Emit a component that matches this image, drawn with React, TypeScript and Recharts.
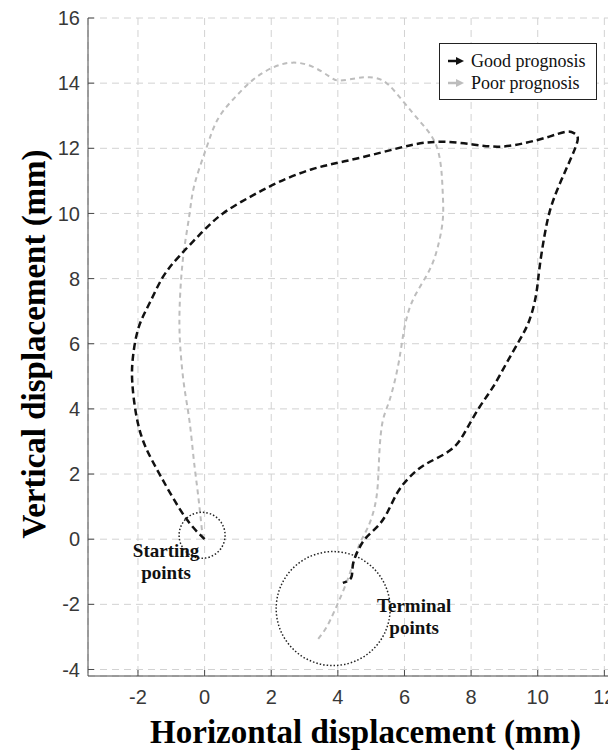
import React from "react"
import { LineChart, Line, XAxis, YAxis, CartesianGrid, ReferenceDot, Label } from "recharts"

// trajectory of the good-prognosis group (mm)
const goodX = [0.0, -0.6, -1.3, -1.8, -2.05, -2.17, -2.15, -1.98, -1.65, -1.25, -0.75, -0.1, 0.55, 1.35, 2.2, 3.2, 4.2, 5.3, 6.3, 7.15, 8.05, 8.85, 9.65, 10.35, 10.85, 11.1, 11.2, 11.0, 10.7, 10.4, 10.2, 10.05, 9.95, 9.75, 9.45, 9.05, 8.65, 8.25, 7.85, 7.4, 6.65, 6.15, 5.8, 5.5, 5.2, 4.85, 4.6, 4.45, 4.4, 4.15]
const goodY = [0.0, 0.7, 1.9, 2.9, 3.8, 4.8, 5.6, 6.5, 7.25, 8.05, 8.7, 9.4, 10.0, 10.5, 10.95, 11.35, 11.6, 11.87, 12.12, 12.2, 12.12, 12.05, 12.17, 12.36, 12.51, 12.46, 12.26, 11.7, 11.0, 10.2, 9.3, 8.3, 7.5, 6.72, 6.1, 5.38, 4.66, 4.05, 3.35, 2.75, 2.31, 1.9, 1.45, 0.85, 0.4, 0.05, -0.36, -0.8, -1.18, -1.34]

// trajectory of the poor-prognosis group (mm)
const poorX = [-0.05, -0.2, -0.32, -0.45, -0.6, -0.7, -0.75, -0.75, -0.7, -0.6, -0.45, -0.3, 0.05, 0.4, 0.9, 1.45, 2.05, 2.65, 3.25, 3.75, 4.05, 4.55, 4.95, 5.35, 5.75, 6.25, 6.65, 6.95, 7.1, 7.15, 7.15, 7.0, 6.75, 6.35, 6.1, 5.95, 5.8, 5.55, 5.35, 5.25, 5.2, 5.1, 4.9, 4.65, 4.45, 4.2, 3.9, 3.65, 3.38]
const poorY = [0.0, 1.4, 2.4, 3.6, 4.6, 5.5, 6.3, 7.1, 8.05, 9.0, 10.0, 10.9, 12.0, 12.9, 13.55, 14.1, 14.48, 14.63, 14.5, 14.2, 14.08, 14.15, 14.18, 14.08, 13.7, 13.08, 12.6, 12.1, 11.4, 10.6, 9.8, 8.97, 8.26, 7.54, 6.92, 6.2, 5.28, 4.26, 3.64, 2.72, 1.69, 0.97, 0.36, -0.15, -0.77, -1.49, -2.2, -2.72, -3.1]

const xTicks = [-2, 0, 2, 4, 6, 8, 10, 12]
const yTicks = [-4, -2, 0, 2, 4, 6, 8, 10, 12, 14, 16]
const seriesNames = ["Good prognosis", "Poor prognosis"]

const startPoint = { x: -0.075, y: 0.12 }
const endPoint = { x: 3.86, y: -2.13 }

const goodData = goodX.map((x, i) => ({ x, y: goodY[i] }))
const poorData = poorX.map((x, i) => ({ x, y: poorY[i] }))

const SERIF = "'Times New Roman', 'Liberation Serif', serif"
const SANS = "Arial, 'Liberation Sans', sans-serif"
const AXIS = "#4a4a4a"

const BottomTick = ({ x, y, payload }: any) => (
  <g>
    <line x1={x} x2={x} y1={y - 14} y2={y - 20} stroke={AXIS} />
    <text x={x} y={y} dy="0.71em" textAnchor="middle" fill="#383838" fontSize={20} fontFamily={SANS}>
      {payload.value}
    </text>
  </g>
)

const LeftTick = ({ x, y, payload }: any) => (
  <g>
    <line x1={x + 8} x2={x + 14} y1={y} y2={y} stroke={AXIS} />
    <text x={x} y={y} dy="0.355em" textAnchor="end" fill="#383838" fontSize={20} fontFamily={SANS}>
      {payload.value}
    </text>
  </g>
)

const TopTick = ({ x, y }: any) => <line x1={x} x2={x} y1={y} y2={y + 6} stroke={AXIS} />
const RightTick = ({ x, y }: any) => <line x1={x} x2={x - 6} y1={y} y2={y} stroke={AXIS} />

const circleLabel = (lines: string[], dx: number, dy: number) => (props: any) => {
  const vb = props.viewBox || {}
  const cx = vb.cx != null ? vb.cx : vb.x + (vb.width || 0) / 2
  const cy = vb.cy != null ? vb.cy : vb.y + (vb.height || 0) / 2
  return (
    <text textAnchor="middle" fontFamily={SERIF} fontWeight="bold" fontSize={19} fill="#111">
      {lines.map((t, i) => (
        <tspan key={t} x={cx + dx} y={cy + dy + i * 22}>{t}</tspan>
      ))}
    </text>
  )
}

const Arrow = ({ color }: { color: string }) => (
  <svg width={18} height={10} style={{ marginRight: 6 }}>
    <line x1={1} y1={5} x2={11} y2={5} stroke={color} strokeWidth={2.5} />
    <polygon points="9,1 17,5 9,9" fill={color} />
  </svg>
)

export default function App() {
  return (
    <div style={{ position: "relative", width: 616, height: 750, overflow: "hidden", margin: "-8px 0 0 -8px", background: "#fff" }}>
      <LineChart width={624} height={750} margin={{ top: 18, right: 3, left: 0, bottom: 0 }}>
        <CartesianGrid stroke="#d2d2d2" strokeDasharray="7 5" />
        <XAxis
          dataKey="x"
          type="number"
          domain={[-3.5, 12.5]}
          ticks={xTicks}
          allowDataOverflow
          height={74}
          tickSize={0}
          tickMargin={14}
          stroke={AXIS}
          tick={<BottomTick />}
        >
          <Label
            content={(p: any) => (
              <text
                x={p.viewBox.x + p.viewBox.width / 2 + 11}
                y={p.viewBox.y + 67}
                textAnchor="middle"
                fontFamily={SERIF}
                fontWeight="bold"
                fontSize={33}
                fill="#000"
              >
                Horizontal displacement (mm)
              </text>
            )}
          />
        </XAxis>
        <XAxis
          xAxisId="top"
          orientation="top"
          dataKey="x"
          type="number"
          domain={[-3.5, 12.5]}
          ticks={xTicks}
          allowDataOverflow
          height={0}
          tickSize={0}
          tickMargin={0}
          stroke={AXIS}
          tick={<TopTick />}
        />
        <YAxis
          type="number"
          domain={[-4.2, 16]}
          ticks={yTicks}
          allowDataOverflow
          width={88}
          tickSize={0}
          tickMargin={8}
          stroke={AXIS}
          tick={<LeftTick />}
        >
          <Label
            content={(p: any) => {
              const cx = 45
              const cy = p.viewBox.y + p.viewBox.height / 2 - 3
              return (
                <text
                  x={cx}
                  y={cy}
                  transform={`rotate(-90, ${cx}, ${cy})`}
                  textAnchor="middle"
                  fontFamily={SERIF}
                  fontWeight="bold"
                  fontSize={33}
                  fill="#000"
                >
                  Vertical displacement (mm)
                </text>
              )
            }}
          />
        </YAxis>
        <YAxis
          yAxisId="right"
          orientation="right"
          type="number"
          domain={[-4.2, 16]}
          ticks={yTicks}
          allowDataOverflow
          width={0}
          tickSize={0}
          tickMargin={0}
          stroke={AXIS}
          tick={<RightTick />}
        />
        <Line
          data={poorData}
          dataKey="y"
          name={seriesNames[1]}
          type="natural"
          stroke="#bdbdbd"
          strokeWidth={2}
          strokeDasharray="5 4"
          dot={false}
          isAnimationActive={false}
        />
        <Line
          data={goodData}
          dataKey="y"
          name={seriesNames[0]}
          type="natural"
          stroke="#111"
          strokeWidth={2.5}
          strokeDasharray="7 4"
          dot={false}
          isAnimationActive={false}
        />
        <ReferenceDot
          x={startPoint.x}
          y={startPoint.y}
          r={23}
          fill="none"
          stroke="#222"
          strokeWidth={1.5}
          strokeDasharray="1.5 2"
          label={circleLabel(["Starting", "points"], -36, 22)}
        />
        <ReferenceDot
          x={endPoint.x}
          y={endPoint.y}
          r={57}
          fill="none"
          stroke="#222"
          strokeWidth={1.5}
          strokeDasharray="1.5 2"
          label={circleLabel(["Terminal", "points"], 81, 3)}
        />
      </LineChart>
      <div
        style={{
          position: "absolute",
          left: 439,
          top: 43,
          width: 158,
          height: 57,
          border: "1.5px solid #222",
          background: "#fff",
          fontFamily: SERIF,
          fontSize: 18,
          lineHeight: "22px",
          padding: "6px 0 0 7px",
          boxSizing: "border-box",
          color: "#111",
        }}
      >
        <div style={{ display: "flex", alignItems: "center" }}>
          <Arrow color="#111" />
          {seriesNames[0]}
        </div>
        <div style={{ display: "flex", alignItems: "center" }}>
          <Arrow color="#bdbdbd" />
          {seriesNames[1]}
        </div>
      </div>
    </div>
  )
}
